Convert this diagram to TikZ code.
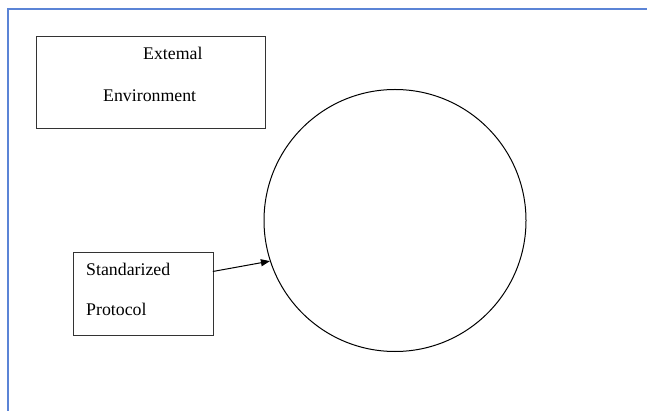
\documentclass[tikz,border=0pt]{standalone}
\usepackage{fontspec}
\setmainfont{Liberation Serif}
\usetikzlibrary{arrows.meta}
\definecolor{frameblue}{HTML}{5B84D6}
\tikzset{
  boxshape/.style={draw=black!80, line width=1pt},
  lbl/.style={anchor=base west, inner sep=0pt, font=\fontsize{17.8}{20}\selectfont},
}
\begin{document}
\begin{tikzpicture}[x=1pt,y=-1pt]
\useasboundingbox (0,0) rectangle (647,411);
\fill[white] (0,0) rectangle (647,411);
\draw[frameblue, line width=1.6pt] (8,411) -- (8,9) -- (647,9);
\node[boxshape, minimum width=229pt, minimum height=92pt, anchor=north west] (ext) at (35.5,36) {};
\node[lbl] (t1) at (143,60) {Extemal};
\node[lbl] (t2) at (103,102) {Environment};
\node[boxshape, minimum width=140pt, minimum height=83pt, anchor=north west] (prot) at (73,252) {};
\node[lbl] (t3) at (86,276) {Standarized};
\node[lbl] (t4) at (86,316) {Protocol};
\node[draw, line width=1pt, circle, minimum size=262pt, inner sep=0pt] (circ) at (395,220.5) {};
\coordinate (a0) at (212.8,271.5);
\draw[line width=1pt, -{Triangle[length=9pt,width=7pt]}] (a0) -- (circ.198.2);
\end{tikzpicture}
\end{document}
